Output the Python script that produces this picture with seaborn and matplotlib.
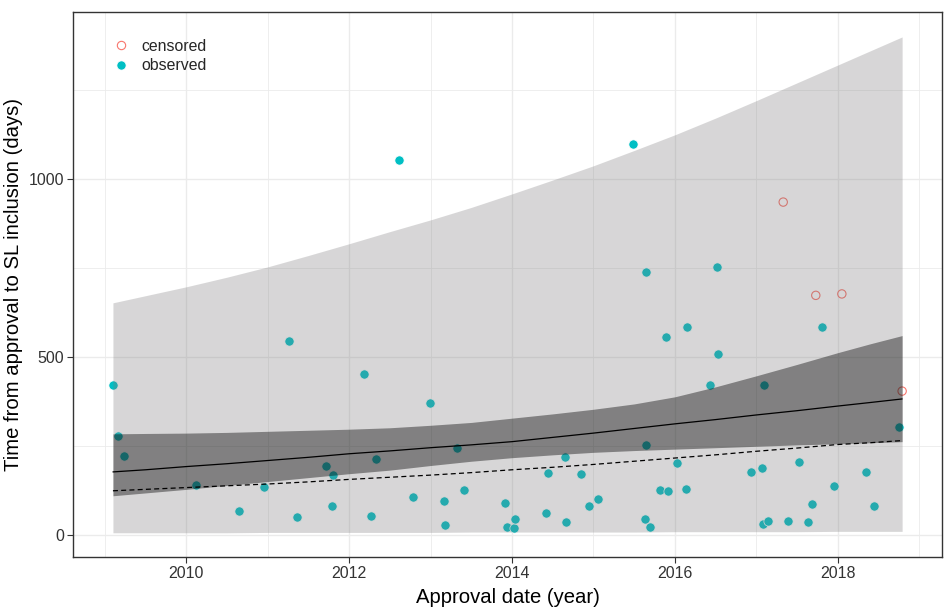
import matplotlib
matplotlib.use('Agg')
import matplotlib.pyplot as plt
from matplotlib.lines import Line2D
import seaborn as sns
import pandas as pd

# observed points (approval year, days to SL inclusion)
obs_year = [2009.10, 2009.16, 2009.23, 2010.12, 2010.65, 2010.96, 2011.26, 2011.36, 2011.72, 2011.80,
            2011.79, 2012.18, 2012.27, 2012.33, 2012.61, 2012.79, 2012.99, 2013.16, 2013.18, 2013.33,
            2013.41, 2013.92, 2013.94, 2014.03, 2014.04, 2014.42, 2014.44, 2014.65, 2014.66, 2014.85,
            2014.94, 2015.06, 2015.49, 2015.63, 2015.64, 2015.65, 2015.69, 2015.82, 2015.89, 2015.91,
            2016.03, 2016.14, 2016.15, 2016.43, 2016.52, 2016.53, 2016.93, 2017.07, 2017.08, 2017.09,
            2017.14, 2017.39, 2017.52, 2017.64, 2017.68, 2017.81, 2017.95, 2018.35, 2018.44, 2018.75]
obs_days = [421, 277, 222, 140, 67, 135, 544, 49, 195, 167,
            80, 453, 52, 214, 1053, 107, 371, 95, 28, 244,
            125, 89, 22, 19, 44, 61, 175, 219, 35, 172,
            81, 100, 1097, 44, 252, 738, 22, 125, 557, 124,
            201, 130, 585, 421, 752, 507, 178, 187, 30, 422,
            39, 39, 206, 37, 88, 585, 138, 177, 82, 302]

# censored points
cens_year = [2017.33, 2017.73, 2018.05, 2018.79]
cens_days = [935, 673, 677, 404]

# fitted curves and bands
fit_year = [2009.10, 2009.5, 2010, 2010.5, 2011, 2011.5, 2012, 2012.5, 2013, 2013.5, 2014,
            2014.5, 2015, 2015.5, 2016, 2016.5, 2017, 2017.5, 2018, 2018.4, 2018.79]
fit_mean = [177, 183, 192, 200, 209, 218, 228, 236, 245, 253, 262,
            274, 286, 299, 312, 324, 337, 349, 362, 372, 382]
fit_median = [124, 128, 133, 138, 143, 149, 156, 162, 168, 175, 183,
              190, 198, 207, 216, 225, 235, 244, 254, 259, 265]
ci_low = [110, 118, 128, 139, 150, 161, 172, 182, 195, 207, 217,
          225, 232, 237, 241, 245, 249, 253, 256, 259, 262]
ci_high = [284, 285, 286, 288, 291, 294, 297, 301, 308, 316, 328,
           340, 353, 368, 388, 416, 447, 479, 512, 537, 560]
pi_low = [6, 6, 6, 6, 7, 7, 7, 7, 7, 8, 8,
          8, 8, 8, 9, 9, 9, 9, 10, 10, 10]
pi_high = [652, 672, 697, 724, 753, 785, 818, 852, 885, 920, 958,
           997, 1037, 1080, 1124, 1171, 1220, 1270, 1320, 1360, 1399]

obs_df = pd.DataFrame({'year': obs_year, 'days': obs_days})
cens_df = pd.DataFrame({'year': cens_year, 'days': cens_days})
fit_df = pd.DataFrame({'year': fit_year, 'mean': fit_mean, 'median': fit_median})

sns.set_theme(style='white')
plt.rcParams['font.family'] = ['Liberation Sans', 'DejaVu Sans']

fig, ax = plt.subplots(figsize=(9.46, 6.09), dpi=100)
fig.subplots_adjust(left=0.0772, right=0.9958, bottom=0.0854, top=0.9803)

sns.scatterplot(data=cens_df, x='year', y='days', ax=ax, s=36, facecolor='none',
                edgecolor='#F8766D', linewidth=0.8, zorder=3)
sns.scatterplot(data=obs_df, x='year', y='days', ax=ax, s=44, color='#00BFC4',
                edgecolor='white', linewidth=0.5, zorder=3)

ax.fill_between(fit_year, pi_low, pi_high, color='#7c7a7c', alpha=0.3, lw=0, zorder=4)
ax.fill_between(fit_year, ci_low, ci_high, color='black', alpha=0.4, lw=0, zorder=5)

sns.lineplot(data=fit_df, x='year', y='mean', ax=ax, color='black', lw=0.9, zorder=6)
sns.lineplot(data=fit_df, x='year', y='median', ax=ax, color='black', lw=0.9,
             linestyle=(0, (4, 2.6)), zorder=6)

ax.set_xlim(2008.61, 2019.28)
ax.set_ylim(-62, 1469)
ax.set_xticks([2010, 2012, 2014, 2016, 2018])
ax.set_xticks([2009, 2011, 2013, 2015, 2017, 2019], minor=True)
ax.set_yticks([0, 500, 1000])
ax.set_yticks([250, 750, 1250], minor=True)
ax.grid(which='major', color='#EBEBEB', lw=1.0, zorder=0)
ax.grid(which='minor', color='#EBEBEB', lw=0.6, zorder=0)
ax.set_axisbelow(True)
ax.tick_params(which='major', direction='out', length=4, width=0.8, color='#333333',
               labelsize=11.5, labelcolor='#333333', pad=2.5, bottom=True, left=True)
ax.tick_params(which='minor', length=0)
for sp in ax.spines.values():
    sp.set_color('#333333')
    sp.set_linewidth(1.0)

ax.set_xlabel('Approval date (year)', fontsize=14.6, color='black', labelpad=5)
ax.set_ylabel('Time from approval to SL inclusion (days)', fontsize=14.6, color='black', labelpad=4)

handles = [
    Line2D([], [], marker='o', linestyle='none', markersize=6.0, markerfacecolor='none',
           markeredgecolor='#F8766D', markeredgewidth=0.8, label='censored'),
    Line2D([], [], marker='o', linestyle='none', markersize=6.6, markerfacecolor='#00BFC4',
           markeredgecolor='white', markeredgewidth=0.5, label='observed'),
]
ax.legend(handles=handles, loc='upper left', bbox_to_anchor=(0.046, 0.9505), frameon=False,
          fontsize=11.4, handlelength=1.0, handletextpad=0.77, labelspacing=0.28,
          borderpad=0, borderaxespad=0)

fig.savefig('out.png', dpi=100)
